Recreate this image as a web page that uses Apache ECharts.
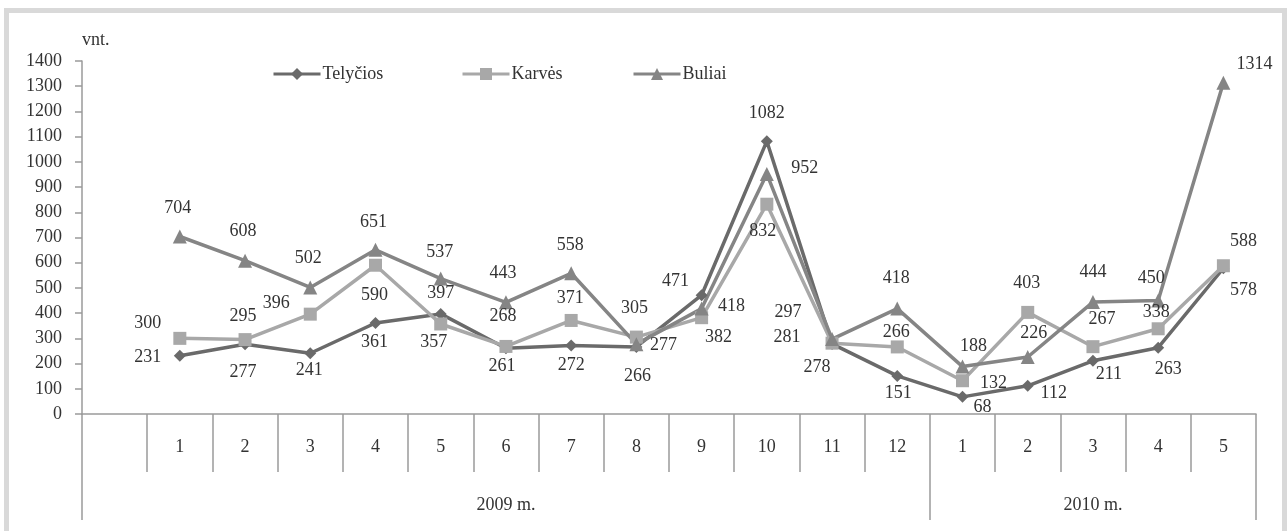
<!DOCTYPE html>
<html>
<head>
<meta charset="utf-8">
<script src="https://cdn.jsdelivr.net/npm/echarts@6/dist/echarts.min.js"></script>
<style>
  html, body { margin: 0; padding: 0; background: #ffffff; }
  #frame { position: absolute; left: 4px; top: 8px; width: 1273px; height: 540px;
           border: 5px solid #d9d9d9; border-bottom: none; box-sizing: content-box; }
  #chart { position: absolute; left: 0; top: 0; width: 1287px; height: 531px; }
</style>
</head>
<body>
<div id="frame"></div>
<div id="chart"></div>
<script>
// ---- data ----
const months = ['', '1', '2', '3', '4', '5', '6', '7', '8', '9', '10', '11', '12', '1', '2', '3', '4', '5'];
const yearLabels = ['', '', '', '', '', '', '2009 m.', '', '', '', '', '', '', '', '', '2010 m.', '', ''];
const telycios = [null, 231, 277, 241, 361, 397, 261, 272, 266, 471, 1082, 278, 151, 68, 112, 211, 263, 578];
const karves   = [null, 300, 295, 396, 590, 357, 268, 371, 305, 382, 832, 281, 266, 132, 403, 267, 338, 588];
const buliai   = [null, 704, 608, 502, 651, 537, 443, 558, 277, 418, 952, 297, 418, 188, 226, 444, 450, 1314];
const yTicks = { min: 0, max: 1400, step: 100 };

// ---- label placement (style only) ----
const offT = [null, [-32,2],[-2,28],[-1,17],[-1,19],[0,-21],[-4,18],[0,20],[1,29],[-26,-14],[0,-28],[-15,23],[1,17],[20,10],[26,8],[16,13],[10,22],[20,22]];
const offK = [null, [-32,-15],[-2,-23],[-34,-11],[-1,30],[-7,18],[-3,-30],[-1,-22],[-2,-29],[17,20],[-4,27],[-45,-6],[-1,-15],[31,3],[-1,-29],[9,-27],[-2,-17],[20,-24]];
const offB = [null, [-2,-28],[-2,-29],[-2,-29],[-2,-28],[-1,-26],[-3,-29],[-1,-28],[27,1],[30,-2],[38,-6],[-44,-27],[-1,-30],[11,-20],[6,-24],[0,-30],[-7,-22],[31,-18]];

const FONT = 'Liberation Serif';
const TXT = '#333333';
const AX = '#9a9a9a';

function build(values, offs) {
  return values.map((v, i) => v == null ? '-' : { value: v, label: { offset: offs[i] } });
}

function lineSeries(name, values, offs, color, symbol, size, width) {
  return {
    name: name, type: 'line', data: build(values, offs),
    symbol: symbol, symbolSize: size, showAllSymbol: true,
    lineStyle: { color: color, width: width },
    itemStyle: { color: color },
    label: { show: true, position: 'inside', align: 'center', verticalAlign: 'middle',
             color: TXT, fontFamily: FONT, fontSize: 18 },
    emphasis: { disabled: true },
    animation: false
  };
}

const chart = echarts.init(document.getElementById('chart'), null, { renderer: 'canvas' });
const legendBase = { orient: 'horizontal', top: 65, padding: 0, itemWidth: 47, itemHeight: 15, itemGap: 0,
                     lineStyle: { width: 3 },
                     textStyle: { fontFamily: FONT, fontSize: 18, color: TXT, padding: [0,0,0,-3] } };
chart.setOption({
  backgroundColor: 'transparent',
  animation: false,
  legend: [
    Object.assign({}, legendBase, { left: 272, data: ['Telyčios'] }),
    Object.assign({}, legendBase, { left: 461, data: ['Karvės'] }),
    Object.assign({}, legendBase, { left: 632, data: ['Buliai'] })
  ],
  grid: { left: 82, right: 31, top: 61, bottom: 117, containLabel: false },
  xAxis: [
    {
      type: 'category', data: months, boundaryGap: true,
      axisLine: { show: true, lineStyle: { color: AX, width: 1.5 } },
      axisTick: { show: true, interval: 0, length: 58, lineStyle: { color: AX, width: 1.5 } },
      axisLabel: { interval: 0, margin: 24, fontFamily: FONT, fontSize: 18, color: TXT },
      splitLine: { show: false }
    },
    {
      type: 'category', data: yearLabels, boundaryGap: true, position: 'bottom', offset: 58,
      axisLine: { show: false },
      axisTick: { show: true, length: 48, interval: function (i) { return i === 0 || i === 13; },
                  lineStyle: { color: AX, width: 1.5 } },
      axisLabel: { interval: 0, margin: 24, fontFamily: FONT, fontSize: 18, color: TXT },
      splitLine: { show: false }
    }
  ],
  yAxis: {
    type: 'value', min: yTicks.min, max: yTicks.max, interval: yTicks.step,
    name: 'vnt.', nameLocation: 'end', nameGap: 12,
    nameTextStyle: { fontFamily: FONT, fontSize: 18, color: TXT, align: 'left' },
    axisLine: { show: true, lineStyle: { color: AX, width: 1.5 } },
    axisTick: { show: true, length: 7, lineStyle: { color: AX, width: 1.5 } },
    axisLabel: { margin: 20, fontFamily: FONT, fontSize: 18, color: TXT,
                 formatter: function (v) { return String(v); } },
    splitLine: { show: false }
  },
  series: [
    lineSeries('Telyčios', telycios, offT, '#6a6a6a', 'diamond', 12, 3.5),
    lineSeries('Karvės', karves, offK, '#a8a8a8', 'rect', 13, 3.5),
    lineSeries('Buliai', buliai, offB, '#858585', 'triangle', 14, 3.5)
  ]
});
</script>
</body>
</html>
